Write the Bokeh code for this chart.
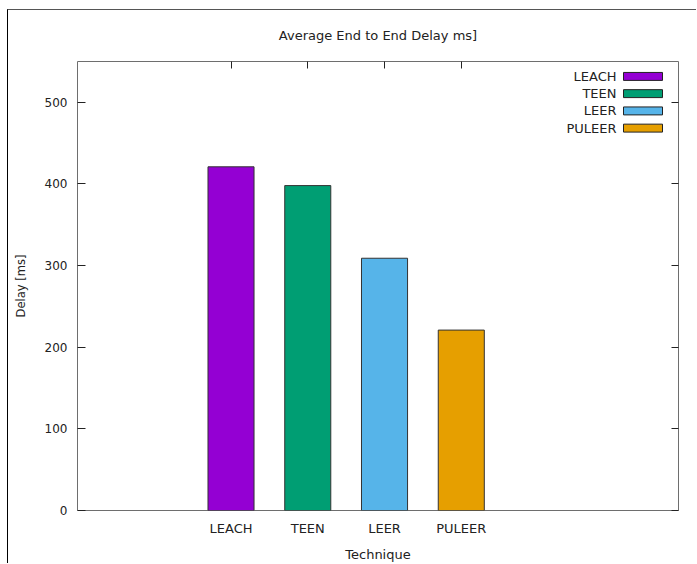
from bokeh.plotting import figure
from bokeh.models import LinearAxis, FixedTicker, Title
from bokeh.core.properties import value
from bokeh.embed import file_html
from bokeh.resources import INLINE

categories = ["LEACH", "TEEN", "LEER", "PULEER"]
delays = [421, 398, 309, 221]
colors = ["#9400d3", "#009e73", "#56b4e9", "#e69f00"]
y_ticks = [0, 100, 200, 300, 400, 500]
title_text = "Average End to End Delay ms]"

positions = list(range(len(categories)))
X0, X1 = -2.0, 5.83
Y0, Y1 = 0, 550

FONT = "DejaVu Sans"
TXT = "#222222"

p = figure(width=689, height=554, x_range=(X0, X1), y_range=(Y0, Y1),
           output_backend="svg", toolbar_location=None,
           min_border_left=69, min_border_right=19, min_border_top=51, min_border_bottom=52)
p.styles = {"margin-left": "7px", "margin-top": "9px",
            "border-left": "1px solid #000", "border-top": "1px solid #555"}

p.title = Title(text=title_text, align="center", vertical_align="top",
                text_font=FONT, text_font_size="13px", text_font_style="normal",
                text_color=TXT, standoff=34)

p.xgrid.visible = False
p.ygrid.visible = False
p.outline_line_color = "#6e6e6e"
p.outline_line_width = 1

# bars
p.vbar(x=positions, top=delays, width=0.6, fill_color=colors,
       line_color="#333333", line_width=1)

# axes
xa = p.xaxis[0]
xa.ticker = FixedTicker(ticks=positions)
xa.major_label_overrides = {i: c for i, c in zip(positions, categories)}
xa.major_tick_in = 0
xa.major_tick_out = 0
xa.minor_tick_line_color = None
xa.axis_line_color = None
xa.major_label_standoff = 10
xa.major_label_text_font = FONT
xa.major_label_text_font_size = "13px"
xa.major_label_text_color = TXT
xa.axis_label = "Technique"
xa.axis_label_standoff = 8
xa.axis_label_text_font = FONT
xa.axis_label_text_font_size = "13px"
xa.axis_label_text_font_style = "normal"
xa.axis_label_text_color = TXT

ya = p.yaxis[0]
ya.ticker = FixedTicker(ticks=y_ticks)
ya.major_tick_in = 8
ya.major_tick_out = 0
ya.major_tick_line_color = "#222222"
ya.minor_tick_line_color = None
ya.axis_line_color = None
ya.major_label_standoff = 10
ya.major_label_text_font = FONT
ya.major_label_text_font_size = "12px"
ya.major_label_text_color = TXT
ya.axis_label = "Delay [ms]"
ya.axis_label_standoff = 14
ya.axis_label_text_font = FONT
ya.axis_label_text_font_size = "11.5px"
ya.axis_label_text_font_style = "normal"
ya.axis_label_text_color = TXT

# mirrored tics (top and right)
top_ax = LinearAxis(ticker=FixedTicker(ticks=positions), major_tick_in=7, major_tick_out=0,
                    major_tick_line_color="#222222", minor_tick_line_color=None,
                    axis_line_color=None, major_label_text_color=None,
                    major_label_text_font_size="0px", major_label_standoff=0)
p.add_layout(top_ax, "above")
right_ax = LinearAxis(ticker=FixedTicker(ticks=y_ticks), major_tick_in=7, major_tick_out=0,
                      major_tick_line_color="#222222", minor_tick_line_color=None,
                      axis_line_color=None, major_label_text_color=None,
                      major_label_text_font_size="0px", major_label_standoff=0)
p.add_layout(right_ax, "right")

# placement helpers from frame pixel geometry (page pixels)
FL, FR, FT, FB = 77.0, 678.0, 61.0, 512.5
def dx(px):
    return X0 + (px - FL) * (X1 - X0) / (FR - FL)
def dy(py):
    return Y0 + (FB - py) * (Y1 - Y0) / (FB - FT)

# legend (gnuplot style: label then swatch)
rows = [76, 93.3, 110.7, 128]
p.text(x=[dx(616)] * 4, y=[dy(r) for r in rows], text=categories,
       text_align="right", text_baseline="middle", text_font=value(FONT),
       text_font_size="13px", text_color=TXT)
p.quad(left=[dx(623)] * 4, right=[dx(662)] * 4,
       top=[dy(r - 4) for r in rows], bottom=[dy(r + 4) for r in rows],
       fill_color=colors, line_color="#222222", line_width=1)

open("out.html", "w").write(file_html(p, INLINE))
